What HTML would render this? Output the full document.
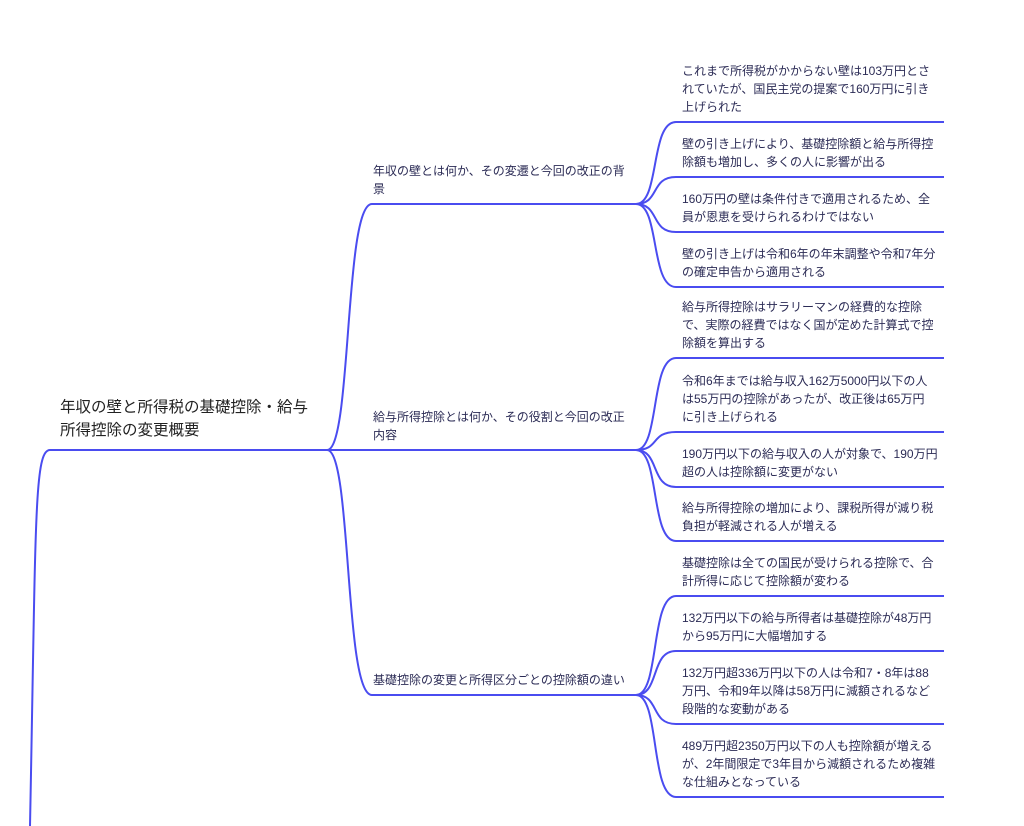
<!DOCTYPE html>
<html><head><meta charset="utf-8"><style>
body{margin:0;width:1024px;height:826px;background:#fff;position:relative;overflow:hidden;font-family:"Liberation Sans","Noto Sans CJK JP",sans-serif;}
svg{position:absolute;left:0;top:0}
.t{position:absolute;font-size:12px;line-height:18px;color:#2b2b55;white-space:nowrap}
.l{left:682px}
.m{left:373px}
.r{position:absolute;left:60px;top:396px;font-size:15.5px;line-height:23px;color:#222;white-space:nowrap}
</style></head><body>
<svg width="1024" height="826" fill="none" stroke="#4a4cf0" stroke-width="2">
<path d="M30,826 C36,520 34,450 50,450 L327,450"/>
<path d="M327,450 C352,450 344,204 372,204 L636,204"/>
<path d="M327,450 L636,450"/>
<path d="M327,450 C352,450 344,695 372,695 L636,695"/>
<g>
<path d="M636,204 C660,204 650,122 676,122 L944,122"/>
<path d="M636,204 C660,204 650,177 676,177 L944,177"/>
<path d="M636,204 C660,204 650,232 676,232 L944,232"/>
<path d="M636,204 C660,204 650,287 676,287 L944,287"/>
<path d="M636,450 C660,450 650,358 676,358 L944,358"/>
<path d="M636,450 C660,450 650,432 676,432 L944,432"/>
<path d="M636,450 C660,450 650,487 676,487 L944,487"/>
<path d="M636,450 C660,450 650,541 676,541 L944,541"/>
<path d="M636,695 C660,695 650,596 676,596 L944,596"/>
<path d="M636,695 C660,695 650,651 676,651 L944,651"/>
<path d="M636,695 C660,695 650,724 676,724 L944,724"/>
<path d="M636,695 C660,695 650,797 676,797 L944,797"/>
</g>
</svg>
<div class="r">年収の壁と所得税の基礎控除・給与<br>所得控除の変更概要</div>
<div class="t m" style="top:162px">年収の壁とは何か、その変遷と今回の改正の背<br>景</div>
<div class="t m" style="top:408px">給与所得控除とは何か、その役割と今回の改正<br>内容</div>
<div class="t m" style="top:671px">基礎控除の変更と所得区分ごとの控除額の違い</div>
<div class="t l" style="top:62px">これまで所得税がかからない壁は103万円とさ<br>れていたが、国民主党の提案で160万円に引き<br>上げられた</div>
<div class="t l" style="top:135px">壁の引き上げにより、基礎控除額と給与所得控<br>除額も増加し、多くの人に影響が出る</div>
<div class="t l" style="top:190px">160万円の壁は条件付きで適用されるため、全<br>員が恩恵を受けられるわけではない</div>
<div class="t l" style="top:245px">壁の引き上げは令和6年の年末調整や令和7年分<br>の確定申告から適用される</div>
<div class="t l" style="top:298px">給与所得控除はサラリーマンの経費的な控除<br>で、実際の経費ではなく国が定めた計算式で控<br>除額を算出する</div>
<div class="t l" style="top:372px">令和6年までは給与収入162万5000円以下の人<br>は55万円の控除があったが、改正後は65万円<br>に引き上げられる</div>
<div class="t l" style="top:445px">190万円以下の給与収入の人が対象で、190万円<br>超の人は控除額に変更がない</div>
<div class="t l" style="top:499px">給与所得控除の増加により、課税所得が減り税<br>負担が軽減される人が増える</div>
<div class="t l" style="top:554px">基礎控除は全ての国民が受けられる控除で、合<br>計所得に応じて控除額が変わる</div>
<div class="t l" style="top:609px">132万円以下の給与所得者は基礎控除が48万円<br>から95万円に大幅増加する</div>
<div class="t l" style="top:664px">132万円超336万円以下の人は令和7・8年は88<br>万円、令和9年以降は58万円に減額されるなど<br>段階的な変動がある</div>
<div class="t l" style="top:737px">489万円超2350万円以下の人も控除額が増える<br>が、2年間限定で3年目から減額されるため複雑<br>な仕組みとなっている</div>
</body></html>
